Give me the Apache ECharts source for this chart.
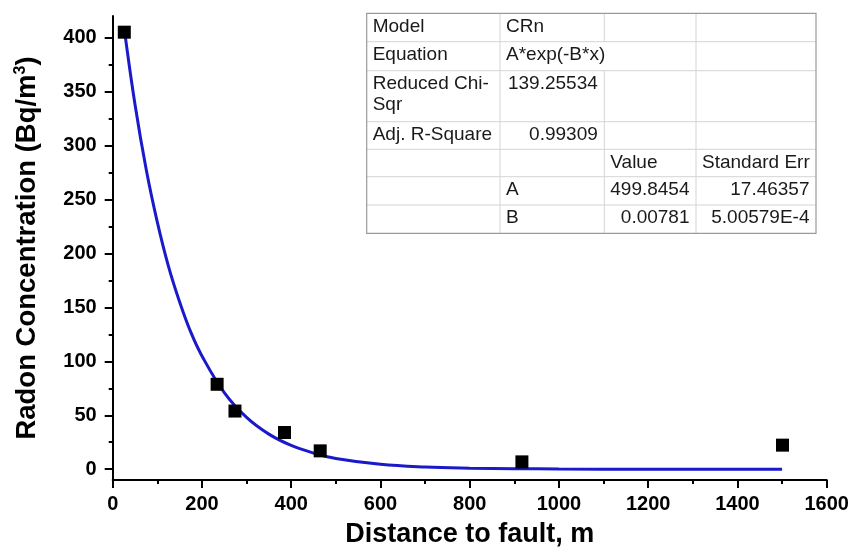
<!DOCTYPE html>
<html>
<head>
<meta charset="utf-8">
<script src="https://cdn.jsdelivr.net/npm/echarts@6/dist/echarts.min.js"></script>
<style>
html,body{margin:0;padding:0;background:#fff;}
#chart{width:852px;height:560px;}
</style>
</head>
<body>
<div id="chart"></div>
<script>
// ---- data ----
const distance = [26, 234, 274, 385, 465, 917, 1501];
const radon = [405, 78.7, 53.9, 34, 17, 6.8, 22.3];

const fitX = [26, 50, 75, 100, 125, 150, 175, 200, 250, 300, 350, 400, 450, 500, 600, 700, 800, 900, 1000, 1200, 1500];
const fitY = [408, 338, 278, 229, 188, 155, 127, 105, 71, 48, 32.5, 22, 15, 10, 4.6, 2.1, 1, 0.5, 0.2, 0, 0];

const xTicks = { min: 0, max: 1600, step: 200 };
const yMajor = [0, 50, 100, 150, 200, 250, 300, 350, 400];
const yMinor = [25, 75, 125, 175, 225, 275, 325, 375];
const yRange = [-10, 420];

const xTitle = 'Distance to fault, m';
const yTitle = 'Radon Concentration (Bq/m{sup|3})';

const tableRows = [
  ['Model', 'CRn', '', ''],
  ['Equation', 'A*exp(-B*x)', '', ''],
  ['Reduced Chi-\nSqr', '139.25534', '', ''],
  ['Adj. R-Square', '0.99309', '', ''],
  ['', '', 'Value', 'Standard Err'],
  ['', 'A', '499.8454', '17.46357'],
  ['', 'B', '0.00781', '5.00579E-4']
];

// ---- layout ----
const tbl = { left: 366.7, top: 13.3, colW: [133.3, 104.3, 91.7, 120], rowH: [28.4, 29, 51, 27.6, 27.4, 28.3, 28.3] };

function buildTable() {
  const els = [];
  const totalW = tbl.colW.reduce((a, b) => a + b, 0);
  const totalH = tbl.rowH.reduce((a, b) => a + b, 0);
  els.push({ type: 'rect', shape: { x: tbl.left, y: tbl.top, width: totalW, height: totalH },
    style: { fill: '#fff', stroke: 'none' }, z: 10 });
  let y = tbl.top;
  for (let r = 0; r < tbl.rowH.length - 1; r++) {
    y += tbl.rowH[r];
    els.push({ type: 'line', shape: { x1: tbl.left, y1: y, x2: tbl.left + totalW, y2: y },
      style: { stroke: '#d4d4d4', lineWidth: 1 }, z: 11 });
  }
  let x = tbl.left;
  for (let c = 0; c < tbl.colW.length - 1; c++) {
    x += tbl.colW[c];
    let ry = tbl.top;
    for (let r = 0; r < tbl.rowH.length; r++) {
      const skip = (r === 1 && c === 1);
      if (!skip) {
        els.push({ type: 'line', shape: { x1: x, y1: ry, x2: x, y2: ry + tbl.rowH[r] },
          style: { stroke: '#d4d4d4', lineWidth: 1 }, z: 11 });
      }
      ry += tbl.rowH[r];
    }
  }
  els.push({ type: 'rect', shape: { x: tbl.left, y: tbl.top, width: totalW, height: totalH },
    style: { fill: 'none', stroke: '#9a9a9a', lineWidth: 1.2 }, z: 12 });
  let ry = tbl.top;
  for (let r = 0; r < tableRows.length; r++) {
    let cx = tbl.left;
    for (let c = 0; c < 4; c++) {
      const t = tableRows[r][c];
      if (t) {
        const numeric = /^[0-9.\-E]+$/.test(t) && c > 0;
        els.push({ type: 'text', z: 13,
          x: numeric ? cx + tbl.colW[c] - 6.5 : cx + 6,
          y: ry + 2.5,
          style: { text: t, fill: '#1a1a1a', font: '19px "Liberation Sans", Arial, sans-serif',
            align: numeric ? 'right' : 'left', verticalAlign: 'top', lineHeight: 21 } });
      }
      cx += tbl.colW[c];
    }
    ry += tbl.rowH[r];
  }
  return els;
}

const chart = echarts.init(document.getElementById('chart'), null, { renderer: 'canvas' });
const axisFont = { fontFamily: '"Liberation Sans", Arial, sans-serif', fontWeight: 'bold', fontSize: 20, color: '#000' };
const plain = v => String(v);

chart.setOption({
  animation: false,
  backgroundColor: '#fff',
  grid: { left: 112.7, right: 25.3, top: 16, bottom: 80, containLabel: false },
  xAxis: {
    type: 'value', min: xTicks.min, max: xTicks.max, interval: xTicks.step,
    name: xTitle, nameLocation: 'middle', nameGap: 41,
    nameTextStyle: { fontFamily: '"Liberation Sans", Arial, sans-serif', fontWeight: 'bold', fontSize: 27, color: '#000' },
    axisLine: { show: true, onZero: false, lineStyle: { color: '#000', width: 2 } },
    axisTick: { show: true, inside: false, length: 8, lineStyle: { color: '#000', width: 2 } },
    minorTick: { show: true, splitNumber: 2, length: 4, lineStyle: { color: '#000', width: 2 } },
    axisLabel: Object.assign({ margin: 14, formatter: plain }, axisFont),
    splitLine: { show: false }
  },
  yAxis: [{
    type: 'value', min: yRange[0], max: yRange[1],
    name: yTitle, nameLocation: 'middle', nameGap: 71, nameRotate: 90,
    nameTextStyle: { fontFamily: '"Liberation Sans", Arial, sans-serif', fontWeight: 'bold', fontSize: 27.5, color: '#000',
      rich: { sup: { fontFamily: '"Liberation Sans", Arial, sans-serif', fontWeight: 'bold', fontSize: 16, verticalAlign: 'top', padding: [0, 0, 13, 0], color: '#000' } } },
    axisLine: { show: true, onZero: false, lineStyle: { color: '#000', width: 2 } },
    axisTick: { show: true, inside: false, length: 8, customValues: yMajor, lineStyle: { color: '#000', width: 2 } },
    axisLabel: Object.assign({ margin: 16, customValues: yMajor, formatter: plain }, axisFont),
    splitLine: { show: false }
  }, {
    type: 'value', min: yRange[0], max: yRange[1], position: 'left', offset: 0,
    axisLine: { show: false },
    axisTick: { show: true, inside: false, length: 4, customValues: yMinor, lineStyle: { color: '#000', width: 2 } },
    axisLabel: { show: false },
    splitLine: { show: false }
  }],
  series: [{
    type: 'line', yAxisIndex: 0,
    data: fitX.map((x, i) => [x, fitY[i]]),
    smooth: 0.4, showSymbol: false, symbol: 'none',
    lineStyle: { color: '#1a1acb', width: 3 }, z: 2
  }, {
    type: 'scatter', yAxisIndex: 0,
    data: distance.map((x, i) => [x, radon[i]]),
    symbol: 'rect', symbolSize: 13,
    itemStyle: { color: '#000', opacity: 1 }, z: 3
  }],
  graphic: buildTable()
});
</script>
</body>
</html>
